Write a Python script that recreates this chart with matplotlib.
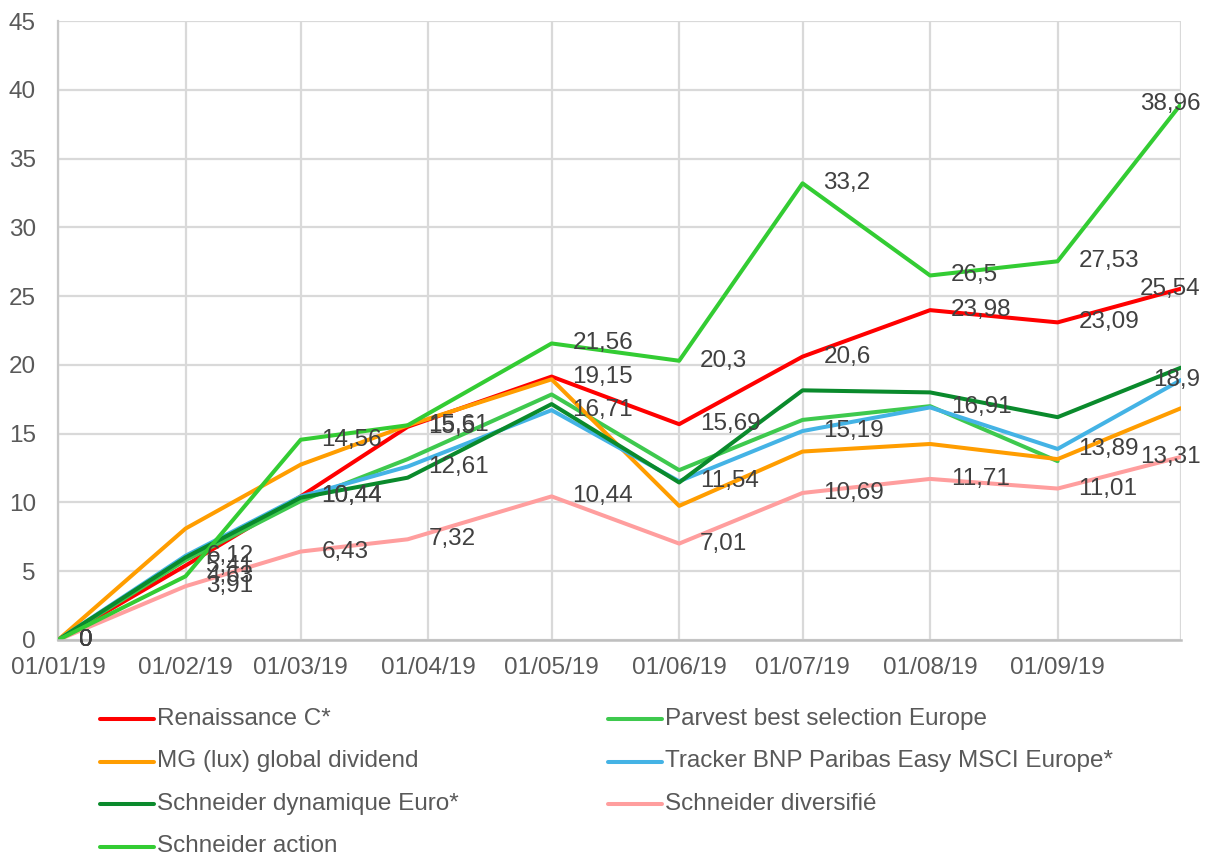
import numpy as np
import pandas as pd
import matplotlib
matplotlib.use("Agg")
import matplotlib.pyplot as plt
from matplotlib.lines import Line2D

plt.rcParams['font.family'] = ['Liberation Sans', 'DejaVu Sans']

W, H = 1209, 858

dates = pd.to_datetime(['2019-01-01', '2019-02-01', '2019-03-01', '2019-03-27', '2019-05-01',
                        '2019-06-01', '2019-07-01', '2019-08-01', '2019-09-01', '2019-10-01'])
tick_dates = pd.date_range('2019-01-01', '2019-10-01', freq='MS')

renaissance = [0, 5.41, 10.44, 15.5, 19.15, 15.69, 20.6, 23.98, 23.09, 25.54]
parvest = [0, 5.8, 10.1, 13.15, 17.85, 12.35, 16.0, 17.0, 13.0, np.nan]
mg_global = [0, 8.1, 12.75, 15.6, 18.95, 9.75, 13.7, 14.25, 13.15, 16.85]
tracker = [0, 6.12, 10.44, 12.61, 16.71, 11.54, 15.19, 16.91, 13.89, 18.9]
schneider_dyn = [0, 6.0, 10.35, 11.8, 17.15, 11.45, 18.15, 18.0, 16.2, 19.8]
schneider_div = [0, 3.91, 6.43, 7.32, 10.44, 7.01, 10.69, 11.71, 11.01, 13.31]
schneider_action = [0, 4.63, 14.56, 15.61, 21.56, 20.3, 33.2, 26.5, 27.53, 38.96]

series = [
    ("Renaissance C*", renaissance, '#FF0000', True),
    ("Parvest best selection Europe", parvest, '#3EC94E', False),
    ("MG (lux) global dividend", mg_global, '#FF9D00', False),
    ("Tracker BNP Paribas Easy MSCI Europe*", tracker, '#44B3E5', True),
    ("Schneider dynamique Euro*", schneider_dyn, '#0A8A2C', False),
    ("Schneider diversifié", schneider_div, '#FF9E9E', True),
    ("Schneider action", schneider_action, '#33CC33', True),
]

FS = 17.5
LABEL_COLOR = '#404040'
TICK_COLOR = '#595959'
GRID = '#D9D9D9'


def fmt(v):
    return f"{v:g}".replace('.', ',')


fig = plt.figure(figsize=(W / 100, H / 100), dpi=100)
ax = fig.add_axes([58 / W, 1 - 640 / H, (1181 - 58) / W, (640 - 21) / H])

for name, vals, color, labelled in series:
    ax.plot(dates, vals, color=color, lw=2.9, solid_joinstyle='round', solid_capstyle='round', zorder=3)

# data labels drawn after lines
for name, vals, color, labelled in series:
    if not labelled:
        continue
    for i, (d, v) in enumerate(zip(dates, vals)):
        if np.isnan(v):
            continue
        if i == len(dates) - 1:
            ax.annotate(fmt(v), (d, v), xytext=(14, 0), textcoords='offset points',
                        ha='right', va='center', fontsize=FS, color=LABEL_COLOR, zorder=5,
                        annotation_clip=False)
        else:
            ax.annotate(fmt(v), (d, v), xytext=(15, 0), textcoords='offset points',
                        ha='left', va='center', fontsize=FS, color=LABEL_COLOR, zorder=5,
                        annotation_clip=False)

ax.set_xlim(dates[0], dates[-1])
ax.set_ylim(0, 45)
ax.set_yticks(np.arange(0, 46, 5))
ax.set_xticks(tick_dates)
ax.set_xticklabels([d.strftime('%d/%m/%y') if d < tick_dates[-1] else '' for d in tick_dates])

ax.grid(True, color=GRID, lw=1.6, zorder=0)
ax.set_axisbelow(True)
ax.tick_params(length=0, labelsize=FS, colors=TICK_COLOR)
ax.tick_params(axis='y', pad=16)
ax.tick_params(axis='x', pad=12)

for side in ['top', 'right']:
    ax.spines[side].set_visible(False)
ax.spines['left'].set_color('#C8C8C8')
ax.spines['left'].set_linewidth(1.6)
ax.spines['bottom'].set_color('#BFBFBF')
ax.spines['bottom'].set_linewidth(1.8)
ax.spines['bottom'].set_zorder(4)

# legend, filled row by row
for i, (name, vals, color, labelled) in enumerate(series):
    row, col = divmod(i, 2)
    y = 1 - (719 + row * 42.5) / H
    x0 = [100, 608][col]
    fig.add_artist(Line2D([x0 / W, (x0 + 54) / W], [y, y], color=color, lw=2.9,
                          solid_capstyle='round', transform=fig.transFigure))
    fig.text((x0 + 57) / W, y, name, fontsize=FS, color=TICK_COLOR, va='center', ha='left')

fig.savefig('out.png', dpi=100)
